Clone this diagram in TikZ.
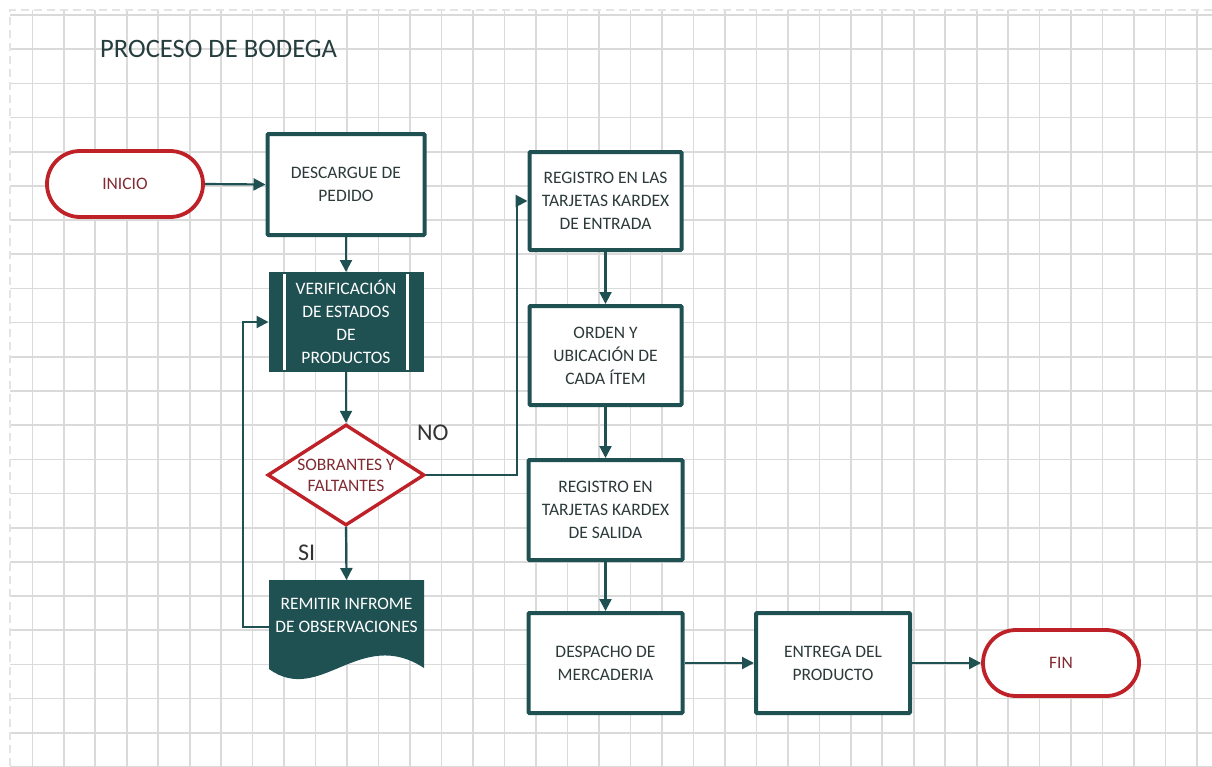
\documentclass[tikz,border=0pt]{standalone}
\usepackage{fontspec}
\setmainfont{Carlito}
\usetikzlibrary{arrows.meta,shapes.geometric}

\definecolor{flowteal}{RGB}{31,80,82}
\definecolor{flowred}{RGB}{190,34,40}
\definecolor{termtext}{RGB}{128,44,50}
\definecolor{boxtext}{RGB}{45,58,58}
\definecolor{titletext}{RGB}{38,62,62}
\definecolor{gridgray}{RGB}{218,218,218}
\definecolor{edgegray}{RGB}{228,228,228}

\tikzset{
  gridline/.style={draw=gridgray, line width=1.6pt},
  gridedge/.style={draw=edgegray, line width=1.6pt, dash pattern=on 8pt off 5pt},
  boxtxt/.style={font=\fontsize{17.5}{23}\selectfont, align=center},
  stepbox/.style={boxtxt, rectangle, draw=flowteal, line width=4pt, fill=white,
    text=boxtext, inner sep=2pt, rounded corners=1pt},
  predef/.style={boxtxt, rectangle, draw=flowteal, line width=4pt, fill=flowteal,
    text=white, inner sep=2pt},
  term/.style={boxtxt, rectangle, draw=flowred, line width=3.8pt, fill=white,
    rounded corners=33pt, minimum width=156pt, minimum height=66pt, text=termtext},
  decision/.style={boxtxt, diamond, aspect=1.54, draw=flowred, line width=3.4pt,
    fill=white, text=termtext, inner sep=0pt, minimum width=157pt, minimum height=101pt,
    font=\fontsize{17.5}{21}\selectfont},
  docnode/.style={boxtxt, rectangle, text=white, inner sep=0pt, outer sep=0pt,
    minimum width=155pt, minimum height=70pt},
  arr/.style={draw=flowteal, line width=2.2pt, -{Triangle[length=12pt,width=12pt]}},
  label/.style={font=\fontsize{24}{28}\selectfont, text=black!80},
}

\begin{document}
\begin{tikzpicture}[x=1pt,y=-1pt]
\useasboundingbox (0,0) rectangle (1212,766);
\fill[white] (0,0) rectangle (1212,766);

% squared paper
\foreach \k in {0,...,37}
  \draw[gridline] ({32.3+31.48*\k},10) -- ({32.3+31.48*\k},766);
\foreach \k in {0,...,22}
  \draw[gridline] (10,{15+34.18*\k}) -- (1212,{15+34.18*\k});
\draw[gridedge] (10,766) -- (10,10) -- (1212,10);

% heading
\node[anchor=base west, inner sep=0pt, text=titletext,
      font=\fontsize{26.6}{30}\selectfont] (title) at (100,57) {PROCESO DE BODEGA};

% left column
\node[term] (inicio) at (125,184) {INICIO};
\node[stepbox, minimum width=157pt, minimum height=101pt] (desc) at (346,184.5)
  {DESCARGUE DE\\PEDIDO};
\node[predef, minimum width=151pt, minimum height=96pt] (verif) at (346,322)
  {VERIFICACIÓN\\DE ESTADOS\\DE\\PRODUCTOS};
\draw[white, line width=2.2pt]
  ([xshift=16pt,yshift=-2pt]verif.north west) -- ([xshift=16pt,yshift=2pt]verif.south west);
\draw[white, line width=2.2pt]
  ([xshift=-16pt,yshift=-2pt]verif.north east) -- ([xshift=-16pt,yshift=2pt]verif.south east);
\node[decision] (dec) at (346,475) {SOBRANTES Y\\FALTANTES};

% document body with wavy lower edge
\fill[flowteal] (269,580) -- (424,580) -- (424,668)
  .. controls (360,626) and (320,706) .. (269,669) -- cycle;
\node[docnode] (doc) at (346.5,615) {REMITIR INFROME\\DE OBSERVACIONES};

% right column
\node[stepbox, minimum width=152pt, minimum height=98pt] (reg1) at (605.5,201)
  {REGISTRO EN LAS\\TARJETAS KARDEX\\DE ENTRADA};
\node[stepbox, minimum width=152pt, minimum height=99pt] (orden) at (605.5,355.5)
  {ORDEN Y\\UBICACIÓN DE\\CADA ÍTEM};
\node[stepbox, minimum width=154pt, minimum height=100pt] (reg2) at (605.5,510)
  {REGISTRO EN\\TARJETAS KARDEX\\DE SALIDA};
\node[stepbox, minimum width=154pt, minimum height=100pt] (desp) at (605.5,663)
  {DESPACHO DE\\MERCADERIA};
\node[stepbox, minimum width=154pt, minimum height=100pt] (entrega) at (833,663)
  {ENTREGA DEL\\PRODUCTO};
\node[term] (fin) at (1061,663) {FIN};

% branch labels
\node[label, anchor=base west, inner sep=0pt] (nolbl) at (417,440) {NO};
\node[label, anchor=base west, inner sep=0pt] (silbl) at (298,560) {SI};

% connectors
\coordinate (nojog) at (517,0);
\coordinate (back) at (243,0);
\draw[arr] (inicio.east) -- (desc.west);
\draw[arr] (desc.south) -- (verif.north);
\draw[arr] (verif.south) -- (dec.north);
\draw[arr] (dec.south) -- (doc.north);
\draw[arr] (dec.east) -- (dec.east -| nojog) |- (reg1.west);
\draw[arr] ([yshift=-12pt]doc.west) -- ([yshift=-12pt]doc.west -| back) |- (verif.west);
\draw[arr] (reg1.south) -- (orden.north);
\draw[arr] (orden.south) -- (reg2.north);
\draw[arr] (reg2.south) -- (desp.north);
\draw[arr] (desp.east) -- (entrega.west);
\draw[arr] (entrega.east) -- (fin.west);
\end{tikzpicture}
\end{document}
